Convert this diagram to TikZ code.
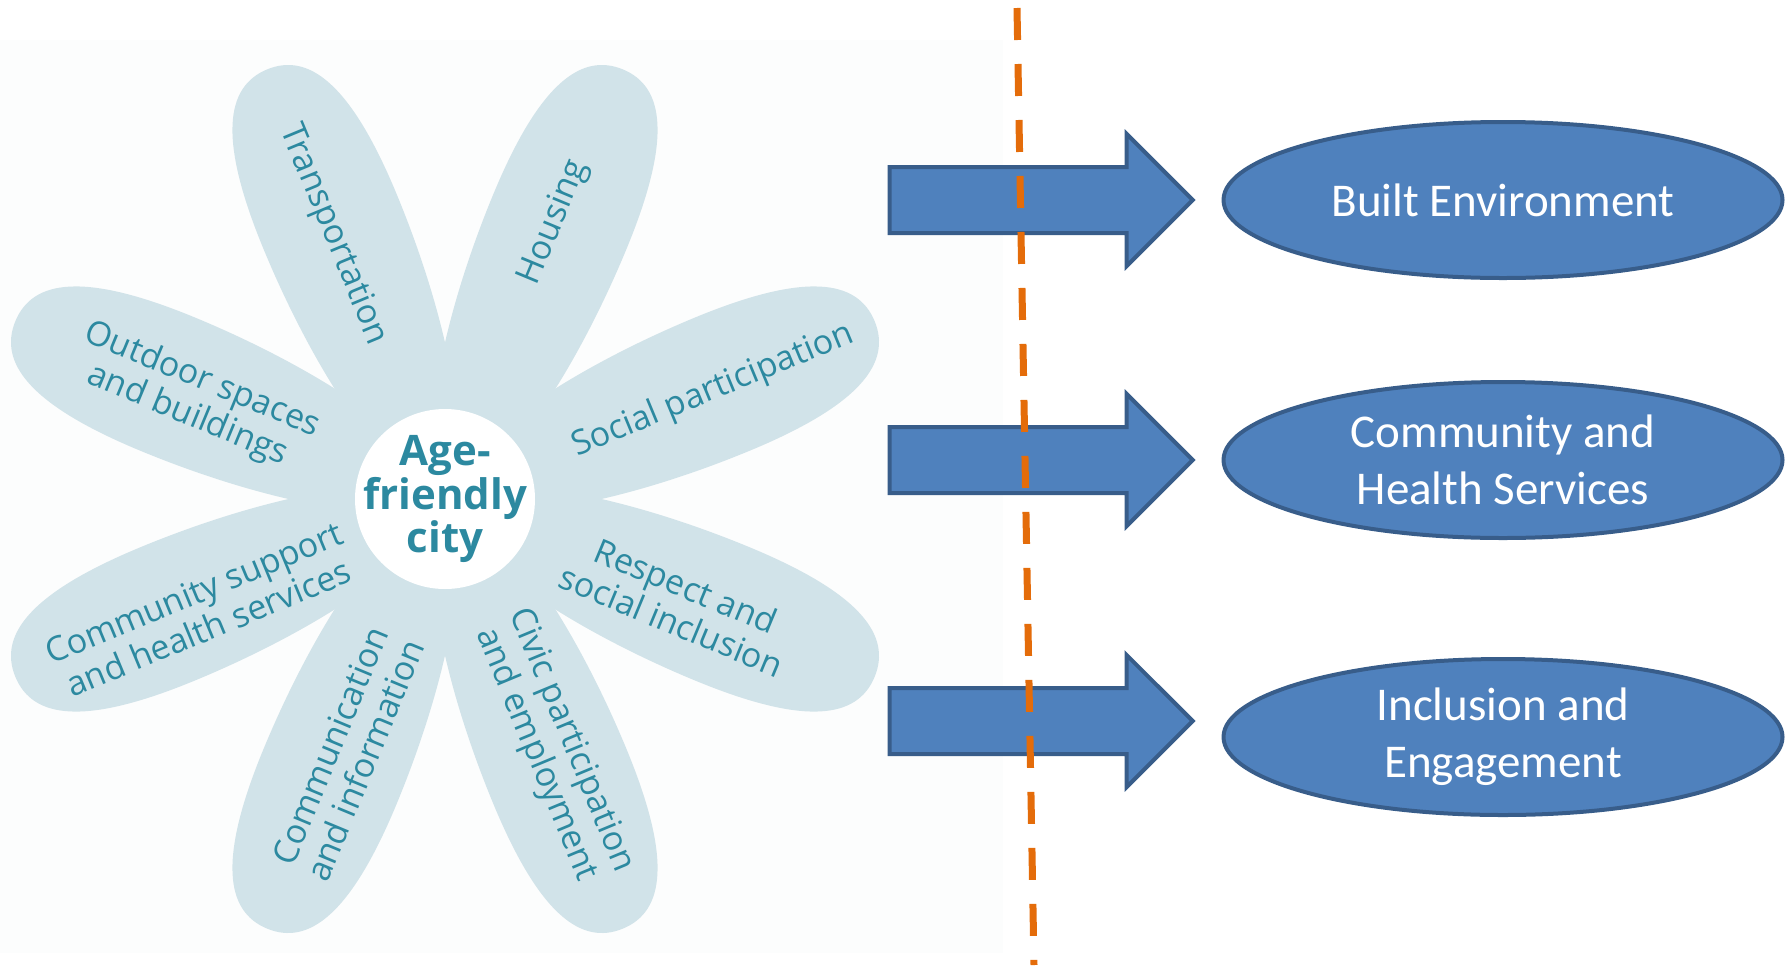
\documentclass[tikz,border=0pt]{standalone}
\usepackage{fontspec}
\setmainfont{Open Sans}
\newfontfamily\calibri{Carlito}
\usepackage{tikz}
\usetikzlibrary{positioning,calc,shapes.geometric,shapes.arrows}
\definecolor{petalblue}{RGB}{209,227,233}
\definecolor{tealtext}{RGB}{44,137,160}
\definecolor{boxblue}{RGB}{79,129,189}
\definecolor{boxedge}{RGB}{56,93,138}
\definecolor{cutorange}{RGB}{228,108,10}
\definecolor{paper}{RGB}{252,253,253}
\tikzstyle{petal} = [fill=petalblue]
\tikzstyle{leaf} = [text=tealtext, align=center, inner sep=0pt, font=\fontsize{34}{38}\selectfont]
\tikzstyle{hub} = [text=tealtext, align=center, inner sep=0pt, font=\fontsize{42}{39}\selectfont\bfseries]
\tikzstyle{goal} = [ellipse, draw=boxedge, line width=4pt, fill=boxblue, text=white, minimum width=559pt, minimum height=156pt, inner sep=0pt, align=center, font=\calibri\fontsize{47}{57}\selectfont]
\tikzstyle{bigarrow} = [single arrow, draw=boxedge, line width=4pt, fill=boxblue, minimum height=303pt, inner xsep=0pt, inner ysep=31pt, single arrow head extend=33pt, single arrow tip angle=90]
\tikzstyle{divider} = [draw=cutorange, line width=7pt, dash pattern=on 32pt off 24pt]

\begin{document}
\begin{tikzpicture}[x=1pt, y=1pt]
	\useasboundingbox (0,0) rectangle (1791,-970);
	\fill[paper] (0,-40) rectangle (1003,-953);

	% the flower
	\coordinate (ctr) at (445,-499);
	\foreach \a in {22.5,67.5,...,337.5}
		\fill[petal, shift={(ctr)}, rotate=\a] (15,0) .. controls (15,-40) and (150,-72) .. (300,-72)
			.. controls (420,-72) and (465,-45) .. (465,0)
			.. controls (465,45) and (420,72) .. (300,72)
			.. controls (150,72) and (15,40) .. (15,0) -- cycle;
	\fill[white] (ctr) circle (90);
	\node [hub] (hub) at (ctr) {Age-\\friendly\\city};

	\node [leaf, rotate=-67.5] (transport) at ($(ctr)+(113:287)$) {Transportation};
	\node [leaf, rotate=67.5] (housing) at ($(ctr)+(68.5:297)$) {Housing};
	\node [leaf, rotate=22.5] (social) at ($(ctr)+(22:289)$) {Social participation};
	\node [leaf, rotate=-22.5] (respect) at ($(ctr)+(-24:256)$) {Respect and\\social inclusion};
	\node [leaf, rotate=-67.5] (civic) at ($(ctr)+(-66.5:271)$) {Civic participation\\and employment};
	\node [leaf, rotate=67.5] (comms) at ($(ctr)+(-111:272)$) {Communication\\and information};
	\node [leaf, rotate=22.5] (support) at ($(ctr)+(204.5:268)$) {Community support\\and health services};
	\node [leaf, rotate=-22.5] (outdoor) at ($(ctr)+(158:270)$) {Outdoor spaces\\and buildings};

	% domains on the right
	\node [goal] (built) at (1503,-200) {Built Environment};
	\node [goal] (health) at (1503,-460) {Community and\\Health Services};
	\node [goal] (incl) at (1503,-737) {Inclusion and\\Engagement};

	\node [bigarrow, left=26pt of built, anchor=tip] (arr1) {};
	\node [bigarrow, left=26pt of health, anchor=tip] (arr2) {};
	\node [bigarrow, left=26pt of incl, anchor=tip, yshift=16pt] (arr3) {};

	\coordinate (cuttop) at (1017,-8);
	\coordinate (cutbot) at (1034,-965);
	\draw [divider] (cuttop) -- (cutbot);
\end{tikzpicture}
\end{document}
